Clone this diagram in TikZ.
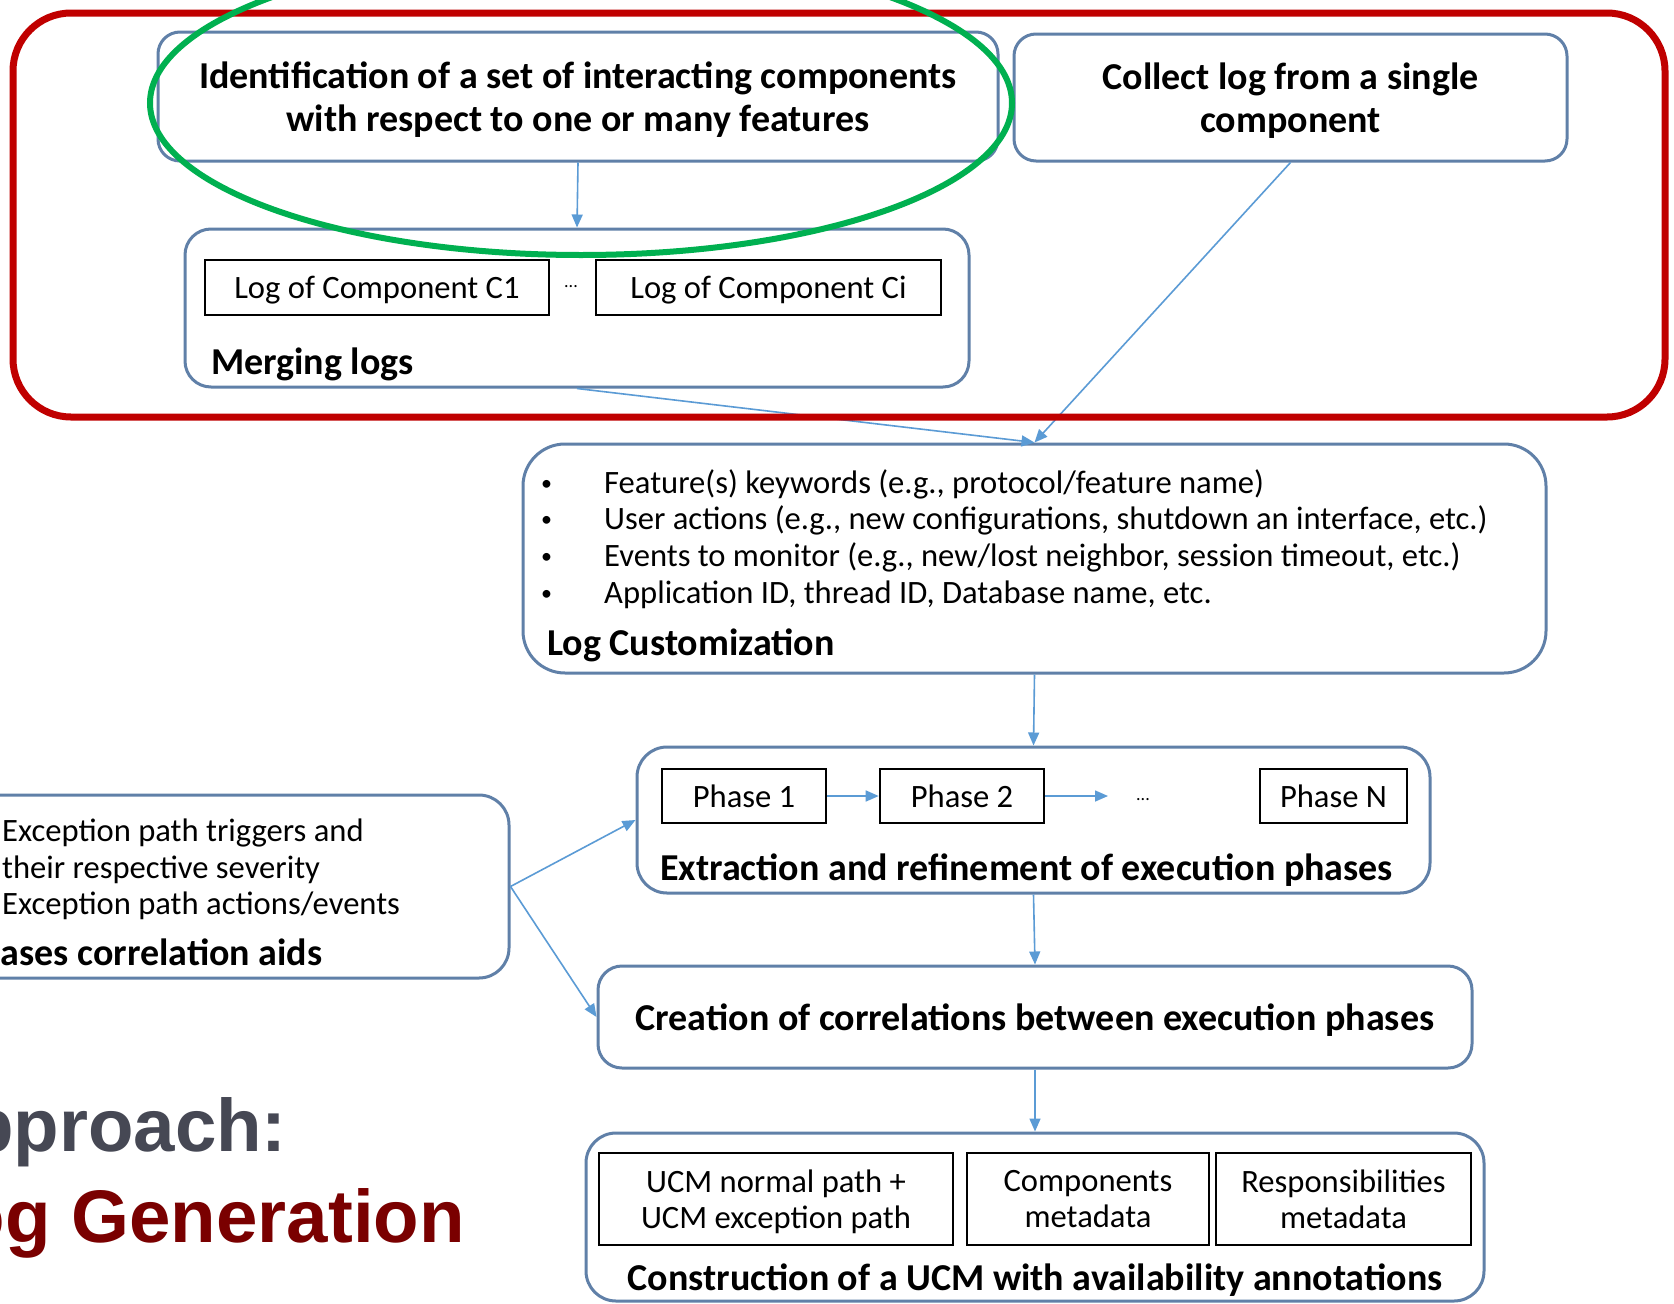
\documentclass[tikz,border=0pt]{standalone}
\usepackage{fontspec}
\setmainfont{Carlito}
\newfontfamily\headfont{Liberation Sans}
\usetikzlibrary{arrows.meta}
\definecolor{boxline}{RGB}{96,128,168}
\definecolor{flowblue}{RGB}{91,155,213}
\definecolor{framered}{RGB}{192,0,0}
\definecolor{ringgreen}{RGB}{0,176,80}
\definecolor{headgray}{RGB}{70,72,84}
\definecolor{headred}{RGB}{122,0,0}
\newcommand{\txtregular}{\fontsize{32.6}{36.5}\selectfont}
\newcommand{\txtbold}{\fontsize{38}{43}\selectfont\bfseries}
\newcommand{\smallbullet}{\makebox[63pt][l]{\raisebox{3pt}{\fontsize{22}{22}\selectfont\textbullet}}}

\begin{document}
\begin{tikzpicture}[x=1pt,y=-1pt,
    bigbox/.style={draw=boxline, line width=3pt, fill=white, inner sep=0pt, rounded corners=22pt, text depth=0pt},
    subbox/.style={draw=black, line width=2.6pt, fill=white, inner sep=0pt, font=\txtregular, align=center, text depth=0pt},
    stagelabel/.style={inner sep=0pt, font=\txtbold},
    plaintext/.style={inner sep=0pt, font=\txtregular},
    flow/.style={draw=flowblue, line width=1.6pt, -{Triangle[length=13pt,width=11pt]}},
    headline/.style={inner sep=0pt, font=\headfont\fontsize{74.5}{90}\selectfont\bfseries, anchor=base east}]
    \useasboundingbox (0,0) rectangle (1674,1304);
    \clip (0,0) rectangle (1674,1304);
    \fill[white] (0,0) rectangle (1674,1304);

    \node[bigbox, minimum width=840pt, minimum height=129pt, align=center, font=\txtbold] (ident) at (578,96.5) {Identification of a set of interacting components\\with respect to one or many features};
    \node[bigbox, minimum width=553pt, minimum height=127pt, align=center, font=\txtbold] (collect) at (1290.5,97.5) {Collect log from a single\\component};

    \node[bigbox, minimum width=784pt, minimum height=158pt, rounded corners=26pt] (merge) at (577,308) {};
    \node[subbox, minimum width=344pt, minimum height=55pt] (logc1) at (377,287.5) {Log of Component C1};
    \node[plaintext, font=\fontsize{18}{20}\selectfont] (logdots) at (571,287) {...};
    \node[subbox, minimum width=345pt, minimum height=55pt] (logci) at (768.5,287.5) {Log of Component Ci};
    \node[stagelabel, anchor=west] (mergelabel) at (211,364) {Merging logs};

    \node[bigbox, minimum width=1023pt, minimum height=229pt, rounded corners=42pt] (custom) at (1034.5,558.5) {};
    \foreach \txt [count=\i] in {{Feature(s) keywords (e.g., protocol/feature name)},
        {User actions (e.g., new configurations, shutdown an interface, etc.)},
        {Events to monitor (e.g., new/lost neighbor, session timeout, etc.)},
        {Application ID, thread ID, Database name, etc.}}
        \node[plaintext, anchor=base west] (item\i) at (541,456.3+36.7*\i) {\smallbullet\txt};
    \node[stagelabel, anchor=west] (customlabel) at (547,645) {Log Customization};

    \node[bigbox, minimum width=793pt, minimum height=146pt, rounded corners=30pt] (extract) at (1033.5,820) {};
    \node[subbox, minimum width=164pt, minimum height=54pt] (phase1) at (744,796) {Phase 1};
    \node[subbox, minimum width=164pt, minimum height=54pt] (phase2) at (962,796) {Phase 2};
    \node[plaintext, font=\fontsize{18}{20}\selectfont] (phasedots) at (1143,800) {...};
    \node[subbox, minimum width=147pt, minimum height=54pt] (phaseN) at (1333.5,796) {Phase N};
    \coordinate (phasegap) at (1108,796);
    \node[stagelabel, anchor=west] (extractlabel) at (660,870) {Extraction and refinement of execution phases};

    \node[bigbox, minimum width=874pt, minimum height=102pt, rounded corners=24pt, font=\txtbold] (create) at (1035,1017) {Creation of correlations between execution phases};

    \node[bigbox, minimum width=898pt, minimum height=168pt, rounded corners=30pt] (construct) at (1035,1217) {};
    \node[subbox, minimum width=354pt, minimum height=92pt] (ucmpath) at (776,1199) {UCM normal path +\\UCM exception path};
    \node[subbox, minimum width=242pt, minimum height=92pt] (compmeta) at (1088,1199) {Components\\metadata};
    \node[subbox, minimum width=255pt, minimum height=92pt] (respmeta) at (1343.5,1199) {Responsibilities\\metadata};
    \node[stagelabel] (constructlabel) at (1035,1280) {Construction of a UCM with availability annotations};

    \node[bigbox, minimum width=589pt, minimum height=183pt, rounded corners=30pt] (aids) at (214.5,886.5) {};
    \node[plaintext, anchor=west] (aids1) at (2,833) {Exception path triggers and};
    \node[plaintext, anchor=west] (aids2) at (2,870) {their respective severity};
    \node[plaintext, anchor=west] (aids3) at (2,906) {Exception path actions/events};
    \node[stagelabel, anchor=west] (aidslabel) at (-40,952) {Phases correlation aids};

    \node[headline, text=headgray] (approach) at (287,1151) {Approach:};
    \node[headline, text=headred] (loggen) at (465,1242) {Log Generation};

    \draw[flow] (ident.south) -- (merge.north);
    \draw[flow] (merge.south) -- (custom.north);
    \draw[flow] (collect.south) -- (custom.north);
    \draw[flow] (custom.south) -- (extract.north);
    \draw[flow] (phase1) -- (phase2);
    \draw[flow] (phase2) -- (phasegap);
    \draw[flow] (extract.south) -- (create.north);
    \draw[flow] (create.south) -- (construct.north);
    \draw[flow] (aids.east) -- (extract.west);
    \draw[flow] (aids.east) -- (create.west);

    \draw[framered, line width=7pt, rounded corners=58pt] (13,13) rectangle (1665,417);
    \draw[ringgreen, line width=6pt] (581,103) ellipse [x radius=431, y radius=152];
\end{tikzpicture}
\end{document}
